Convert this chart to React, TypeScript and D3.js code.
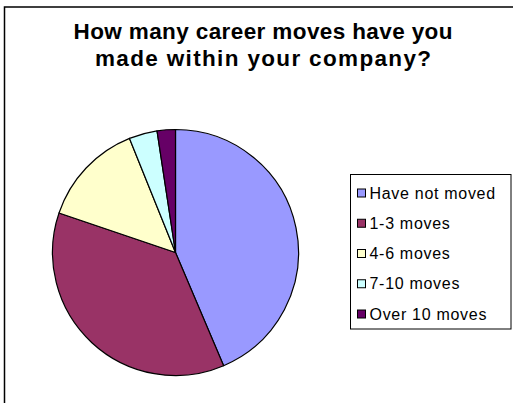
import React from "react";
import * as d3 from "d3";

const categories = ["Have not moved", "1-3 moves", "4-6 moves", "7-10 moves", "Over 10 moves"];
const values = [43.6, 36.6, 13.7, 3.7, 2.4];
const colors = ["#9999FF", "#993366", "#FFFFCC", "#CCFFFF", "#660066"];
const titleLines = ["How many career moves have you", "made within your company?"];

export default function App() {
  const W = 513, H = 403;
  const cx = 175.5, cy = 252.5, r = 123;
  const pie = d3.pie<number>().sort(null).value((d) => d).startAngle(0).endAngle(2 * Math.PI);
  const arcs = pie(values);
  const arc = d3.arc<d3.PieArcDatum<number>>().innerRadius(0).outerRadius(r);
  const legendY = d3.scaleLinear().domain([0, 4]).range([193, 314]);
  return (
    <svg width={W} height={H} style={{ position: "absolute", left: 0, top: 0, background: "#fff" }}
      fontFamily="'Liberation Sans', Arial, sans-serif">
      <rect x={0} y={0} width={W} height={H} fill="#fff" />
      <rect x={4.5} y={7} width={W + 20} height={H + 20} fill="none" stroke="#000" strokeWidth={1.5} />
      {titleLines.map((t, i) => (
        <text key={i} x={263} y={38.5 + i * 27.5} textAnchor="middle" fontWeight="bold" fontSize={22.5}
          textLength={i === 0 ? 379 : 336} lengthAdjust="spacing">{t}</text>
      ))}
      <g transform={`translate(${cx},${cy})`}>
        {arcs.map((a, i) => (
          <path key={i} d={arc(a) || ""} fill={colors[i]} stroke="#000" strokeWidth={1.2} strokeLinejoin="round" />
        ))}
      </g>
      <rect x={350.5} y={174.5} width={160.5} height={154.5} fill="#fff" stroke="#000" strokeWidth={1} />
      {categories.map((c, i) => (
        <g key={c}>
          <rect x={357.5} y={legendY(i) - 4} width={8} height={8} fill={colors[i]} stroke="#000" strokeWidth={1} />
          <text x={369.5} y={legendY(i) + 5.5} fontSize={16} letterSpacing={0.7}>{c}</text>
        </g>
      ))}
    </svg>
  );
}
